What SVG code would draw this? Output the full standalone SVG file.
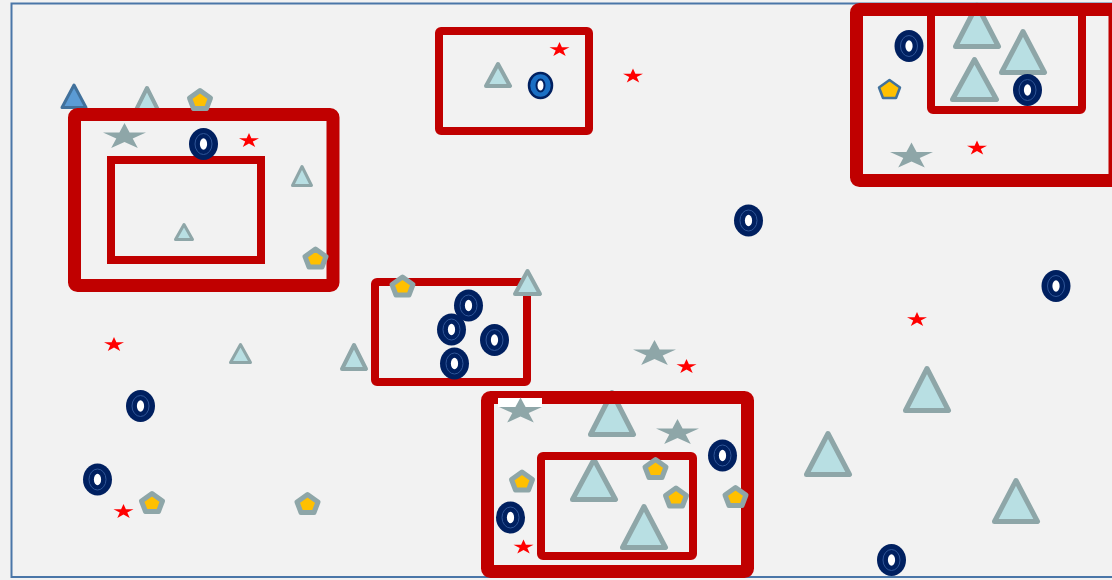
<svg xmlns="http://www.w3.org/2000/svg" width="1112" height="580" viewBox="0 0 1112 580">
<style>
.tri{fill:#b8dfe3;stroke:#8ea6a8;stroke-linejoin:round}
.big{stroke-width:5}
.med{stroke-width:4}
.sm{stroke-width:3}
.btri{fill:#5b9bd5;stroke:#41719c;stroke-width:3;stroke-linejoin:round}
.red{fill:none;stroke:#c00000}
.thick{stroke-width:13}
.thin{stroke-width:8}
.gstar{fill:#8ea6a8}
.rstar{fill:#ff0000}
.pent{fill:#ffc000;stroke:#8ea6a8;stroke-width:5;stroke-linejoin:round}
.bpent{fill:#ffc000;stroke:#41719c;stroke-width:2.5;stroke-linejoin:round}
</style>
<defs>
<polygon id="gs" points="0,-13.8 5.1,-4.3 21.5,-4.3 8.2,1.6 13.3,11.2 0,5.3 -13.3,11.2 -8.2,1.6 -21.5,-4.3 -5.1,-4.3"/>
<polygon id="rs" points="0,-7.7 2.4,-2.4 10,-2.4 3.8,0.9 6.2,6.2 0,2.9 -6.2,6.2 -3.8,0.9 -10,-2.4 -2.4,-2.4"/>
<polygon id="pg" points="0,-9.5 10.5,-2 6.5,8.5 -6.5,8.5 -10.5,-2"/>
<g id="dn">
<ellipse rx="14.5" ry="16" fill="#002060"/>
<ellipse rx="8.5" ry="10.5" fill="none" stroke="#2f5597" stroke-width="1"/>
<ellipse rx="3.6" ry="5.8" fill="#ffffff"/>
</g>
</defs>
<rect width="1112" height="580" fill="#f2f2f2"/>
<rect id="frame" x="11.5" y="3.5" width="1110" height="573.5" fill="#f2f2f2" stroke="#4a76a8" stroke-width="2"/>

<g id="triangles-under">
<polygon class="btri" points="74,85 86,107.5 62,107.5"/>
<polygon class="tri med" points="147,88 158,110 136,110"/>
<polygon class="tri big" points="977,5 998.5,46.5 955.5,46.5"/>
<polygon class="tri big" points="612,392.5 633.5,434.5 590.5,434.5"/>
<polygon class="tri big" points="594,459.5 615.5,499.5 572.5,499.5"/>
</g>

<g id="red-frames">
<rect id="r1" class="red thick" x="74.5" y="114.5" width="258.5" height="171" rx="3"/>
<rect id="r2" class="red thin" x="111" y="160" width="150" height="100"/>
<rect id="r3" class="red thin" x="439" y="31" width="150" height="100" rx="2"/>
<rect id="r4" class="red thick" x="856.5" y="9.5" width="258.5" height="171" rx="3"/>
<rect id="r5" class="red thin" x="931" y="10" width="151" height="100" rx="2"/>
<rect id="r6" class="red thin" x="375" y="282" width="152" height="100" rx="2"/>
<rect id="r7" class="red thick" x="487.5" y="397.5" width="260" height="174" rx="3"/>
<rect id="r8" class="red thin" x="541" y="456" width="152" height="100" rx="2"/>
</g>
<rect id="patch" x="498" y="398" width="44" height="9" fill="#ffffff"/>

<g id="triangles">
<polygon class="tri sm" points="302,166.5 311.5,185.5 292.5,185.5"/>
<polygon class="tri sm" points="184,224.5 192.5,239.5 175.5,239.5"/>
<polygon class="tri med" points="498,64 510,86 486,86"/>
<polygon class="tri big" points="1023,31.5 1044.5,72.5 1001.5,72.5"/>
<polygon class="tri big" points="974.5,59.5 996.5,99.5 952.5,99.5"/>
<polygon class="tri med" points="527.5,271 540,294 515,294"/>
<polygon class="tri sm" points="240.5,344.5 250.5,362.5 230.5,362.5"/>
<polygon class="tri med" points="354,345 366,369 342,369"/>
<polygon class="tri big" points="644,506.5 665.5,547.5 622.5,547.5"/>
<polygon class="tri big" points="828,433.5 849.5,474.5 806.5,474.5"/>
<polygon class="tri big" points="927,368.5 948.5,410.5 905.5,410.5"/>
<polygon class="tri big" points="1016,480.5 1037.5,521.5 994.5,521.5"/>
</g>

<g id="gray-stars" class="gstar">
<use href="#gs" x="124.5" y="136.8"/>
<use href="#gs" x="911.5" y="156.3"/>
<use href="#gs" x="654.5" y="353.8"/>
<use href="#gs" x="520.5" y="411.3"/>
<use href="#gs" x="677.5" y="432.8"/>
</g>

<g id="red-stars" class="rstar">
<use href="#rs" x="249" y="140.7"/>
<use href="#rs" x="559.5" y="49.7"/>
<use href="#rs" x="633" y="76.2"/>
<use href="#rs" x="977" y="148.2"/>
<use href="#rs" x="917" y="319.7"/>
<use href="#rs" x="686.5" y="366.7"/>
<use href="#rs" x="114" y="344.7"/>
<use href="#rs" x="123.5" y="511.7"/>
<use href="#rs" x="523.5" y="547.2"/>
</g>

<g id="pentagons">
<use href="#pg" class="pent" x="200" y="100"/>
<use href="#pg" class="pent" x="315.5" y="258.5"/>
<use href="#pg" class="pent" x="402.5" y="286.5"/>
<use href="#pg" class="bpent" x="889.5" y="89.5"/>
<use href="#pg" class="pent" x="152" y="503"/>
<use href="#pg" class="pent" x="307.5" y="504"/>
<use href="#pg" class="pent" x="522" y="481.5"/>
<use href="#pg" class="pent" x="655.5" y="469"/>
<use href="#pg" class="pent" x="676" y="497.5"/>
<use href="#pg" class="pent" x="735.5" y="497"/>
</g>

<g id="donuts">
<use href="#dn" x="203.5" y="144"/>
<use href="#dn" x="909" y="46"/>
<use href="#dn" x="1027.5" y="90"/>
<use href="#dn" x="748.5" y="220.5"/>
<use href="#dn" x="1056" y="286"/>
<use href="#dn" x="468.5" y="305.5"/>
<use href="#dn" x="451.5" y="329.5"/>
<use href="#dn" x="494.5" y="340"/>
<use href="#dn" x="454.5" y="363.5"/>
<use href="#dn" x="140.5" y="406"/>
<use href="#dn" x="97.5" y="479.5"/>
<use href="#dn" x="510.5" y="517.5"/>
<use href="#dn" x="722.5" y="455.5"/>
<use href="#dn" x="891.5" y="560"/>
<g id="light-donut">
<ellipse cx="540.5" cy="85.5" rx="11.5" ry="12.5" fill="#1a6fc4" stroke="#002060" stroke-width="2.5"/>
<ellipse cx="540.5" cy="85.5" rx="4" ry="6" fill="#ffffff" stroke="#002060" stroke-width="2"/>
</g>
</g>
</svg>
